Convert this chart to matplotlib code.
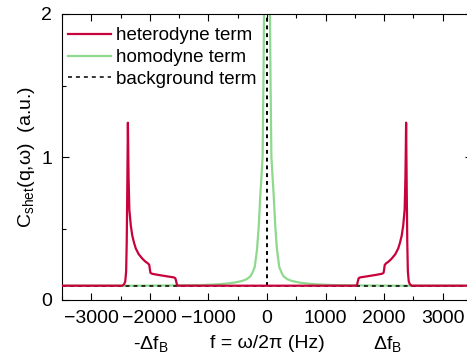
import numpy as np
import matplotlib
matplotlib.use("Agg")
import matplotlib.pyplot as plt
from matplotlib.ticker import MultipleLocator

plt.rcParams['font.family'] = ['Liberation Sans', 'DejaVu Sans']
plt.rcParams['mathtext.fontset'] = 'custom'
plt.rcParams['mathtext.rm'] = 'Liberation Sans'
plt.rcParams['mathtext.it'] = 'Liberation Sans:italic'

# heterodyne term
het_f = [-3500, -2470, -2440, -2420, -2405, -2395, -2385, -2375, -2368, -2363, -2350,
         -2325, -2300, -2270, -2240, -2190, -2130, -2080, -2030, -2010, -2000, -1990,
         -1960, -1850, -1700, -1590, -1565, -1550, -1540, -1525,
         1525, 1540, 1550, 1565, 1590, 1700, 1850, 1960, 1990, 2000, 2010, 2030,
         2080, 2130, 2190, 2240, 2270, 2300, 2325, 2350, 2363, 2368, 2375, 2385,
         2395, 2405, 2420, 2440, 2470, 3500]
het_y = [0.10, 0.10, 0.11, 0.13, 0.20, 0.40, 0.80, 1.24, 1.00, 0.85, 0.63,
         0.52, 0.45, 0.40, 0.36, 0.32, 0.29, 0.27, 0.255, 0.245, 0.215, 0.19,
         0.183, 0.175, 0.165, 0.158, 0.152, 0.13, 0.11, 0.10,
         0.10, 0.11, 0.13, 0.152, 0.158, 0.165, 0.175, 0.183, 0.19, 0.215, 0.245, 0.255,
         0.27, 0.29, 0.32, 0.36, 0.40, 0.45, 0.52, 0.63, 0.85, 1.00, 1.24, 0.80,
         0.40, 0.20, 0.13, 0.11, 0.10, 0.10]

# homodyne term
hom_f = [-3500, -2200, -1600, -1165, -900, -711, -550, -427, -350, -284, -250, -210,
         -171, -142, -113, -95, -75, -60, -51, -40, -25, 0,
         25, 40, 51, 60, 75, 95, 113, 142, 171, 210, 250, 284, 350, 427, 550,
         711, 900, 1165, 1600, 2200, 3500]
hom_y = [0.10, 0.10, 0.102, 0.104, 0.108, 0.114, 0.122, 0.133, 0.145, 0.165, 0.19, 0.23,
         0.35, 0.51, 0.74, 0.86, 1.00, 1.55, 2.0, 2.6, 4.0, 6.0,
         4.0, 2.6, 2.0, 1.55, 1.00, 0.86, 0.74, 0.51, 0.35, 0.23, 0.19, 0.165, 0.145, 0.133, 0.122,
         0.114, 0.108, 0.104, 0.102, 0.10, 0.10]

# background term: flat level plus delta at f = 0
bg_f = [-3500, 3500]
bg_y = [0.1, 0.1]
delta_f = 0
delta_top = 2.0

red = '#C8023C'
green = '#8ED98E'

fig = plt.figure(figsize=(4.67, 3.62), dpi=100)
ax = fig.add_axes([62 / 467, 62 / 362, 410 / 467, 286 / 362])

ax.plot(hom_f, hom_y, color=green, lw=1.6, zorder=1, label='homodyne term')
ax.plot(bg_f, bg_y, color='black', lw=1.1, dashes=(2.6, 2.6), zorder=2, label='background term')
ax.vlines(delta_f, bg_y[0], delta_top, color='black', lw=1.4, linestyles=(0, (2.0, 2.0)), zorder=2)
ax.plot(het_f, het_y, color=red, lw=1.6, zorder=3, label='heterodyne term')

ax.set_xlim(-3500, 3500)
ax.set_ylim(0, 2)
ax.xaxis.set_major_locator(MultipleLocator(1000))
ax.xaxis.set_minor_locator(MultipleLocator(500))
ax.yaxis.set_major_locator(MultipleLocator(1))
ax.yaxis.set_minor_locator(MultipleLocator(0.5))
ax.tick_params(which='both', direction='in', top=True, right=True, width=0.8, labelsize=14)
ax.tick_params(which='major', length=5, pad=7)
ax.tick_params(which='minor', length=3)
for s in ax.spines.values():
    s.set_linewidth(0.8)

ax.set_ylabel('C$_{\\mathrm{shet}}$(q,ω)  (a.u.)', fontsize=14, labelpad=3)
ax.set_xlabel('f = ω/2π (Hz)', fontsize=14, labelpad=6)
ax.text(-2290, -0.24, '-Δf$_{\\mathrm{B}}$', fontsize=14, ha='left', va='top', transform=ax.transData)
ax.text(1810, -0.24, 'Δf$_{\\mathrm{B}}$', fontsize=14, ha='left', va='top', transform=ax.transData)

h, l = ax.get_legend_handles_labels()
order = [2, 0, 1]
ax.legend([h[i] for i in order], [l[i] for i in order], loc='upper left',
          bbox_to_anchor=(-0.018, 1.0), frameon=False, fontsize=13.5,
          handlelength=2.3, handletextpad=0.3, labelspacing=0.25, borderpad=0.2)

fig.savefig('out.png', dpi=100)
